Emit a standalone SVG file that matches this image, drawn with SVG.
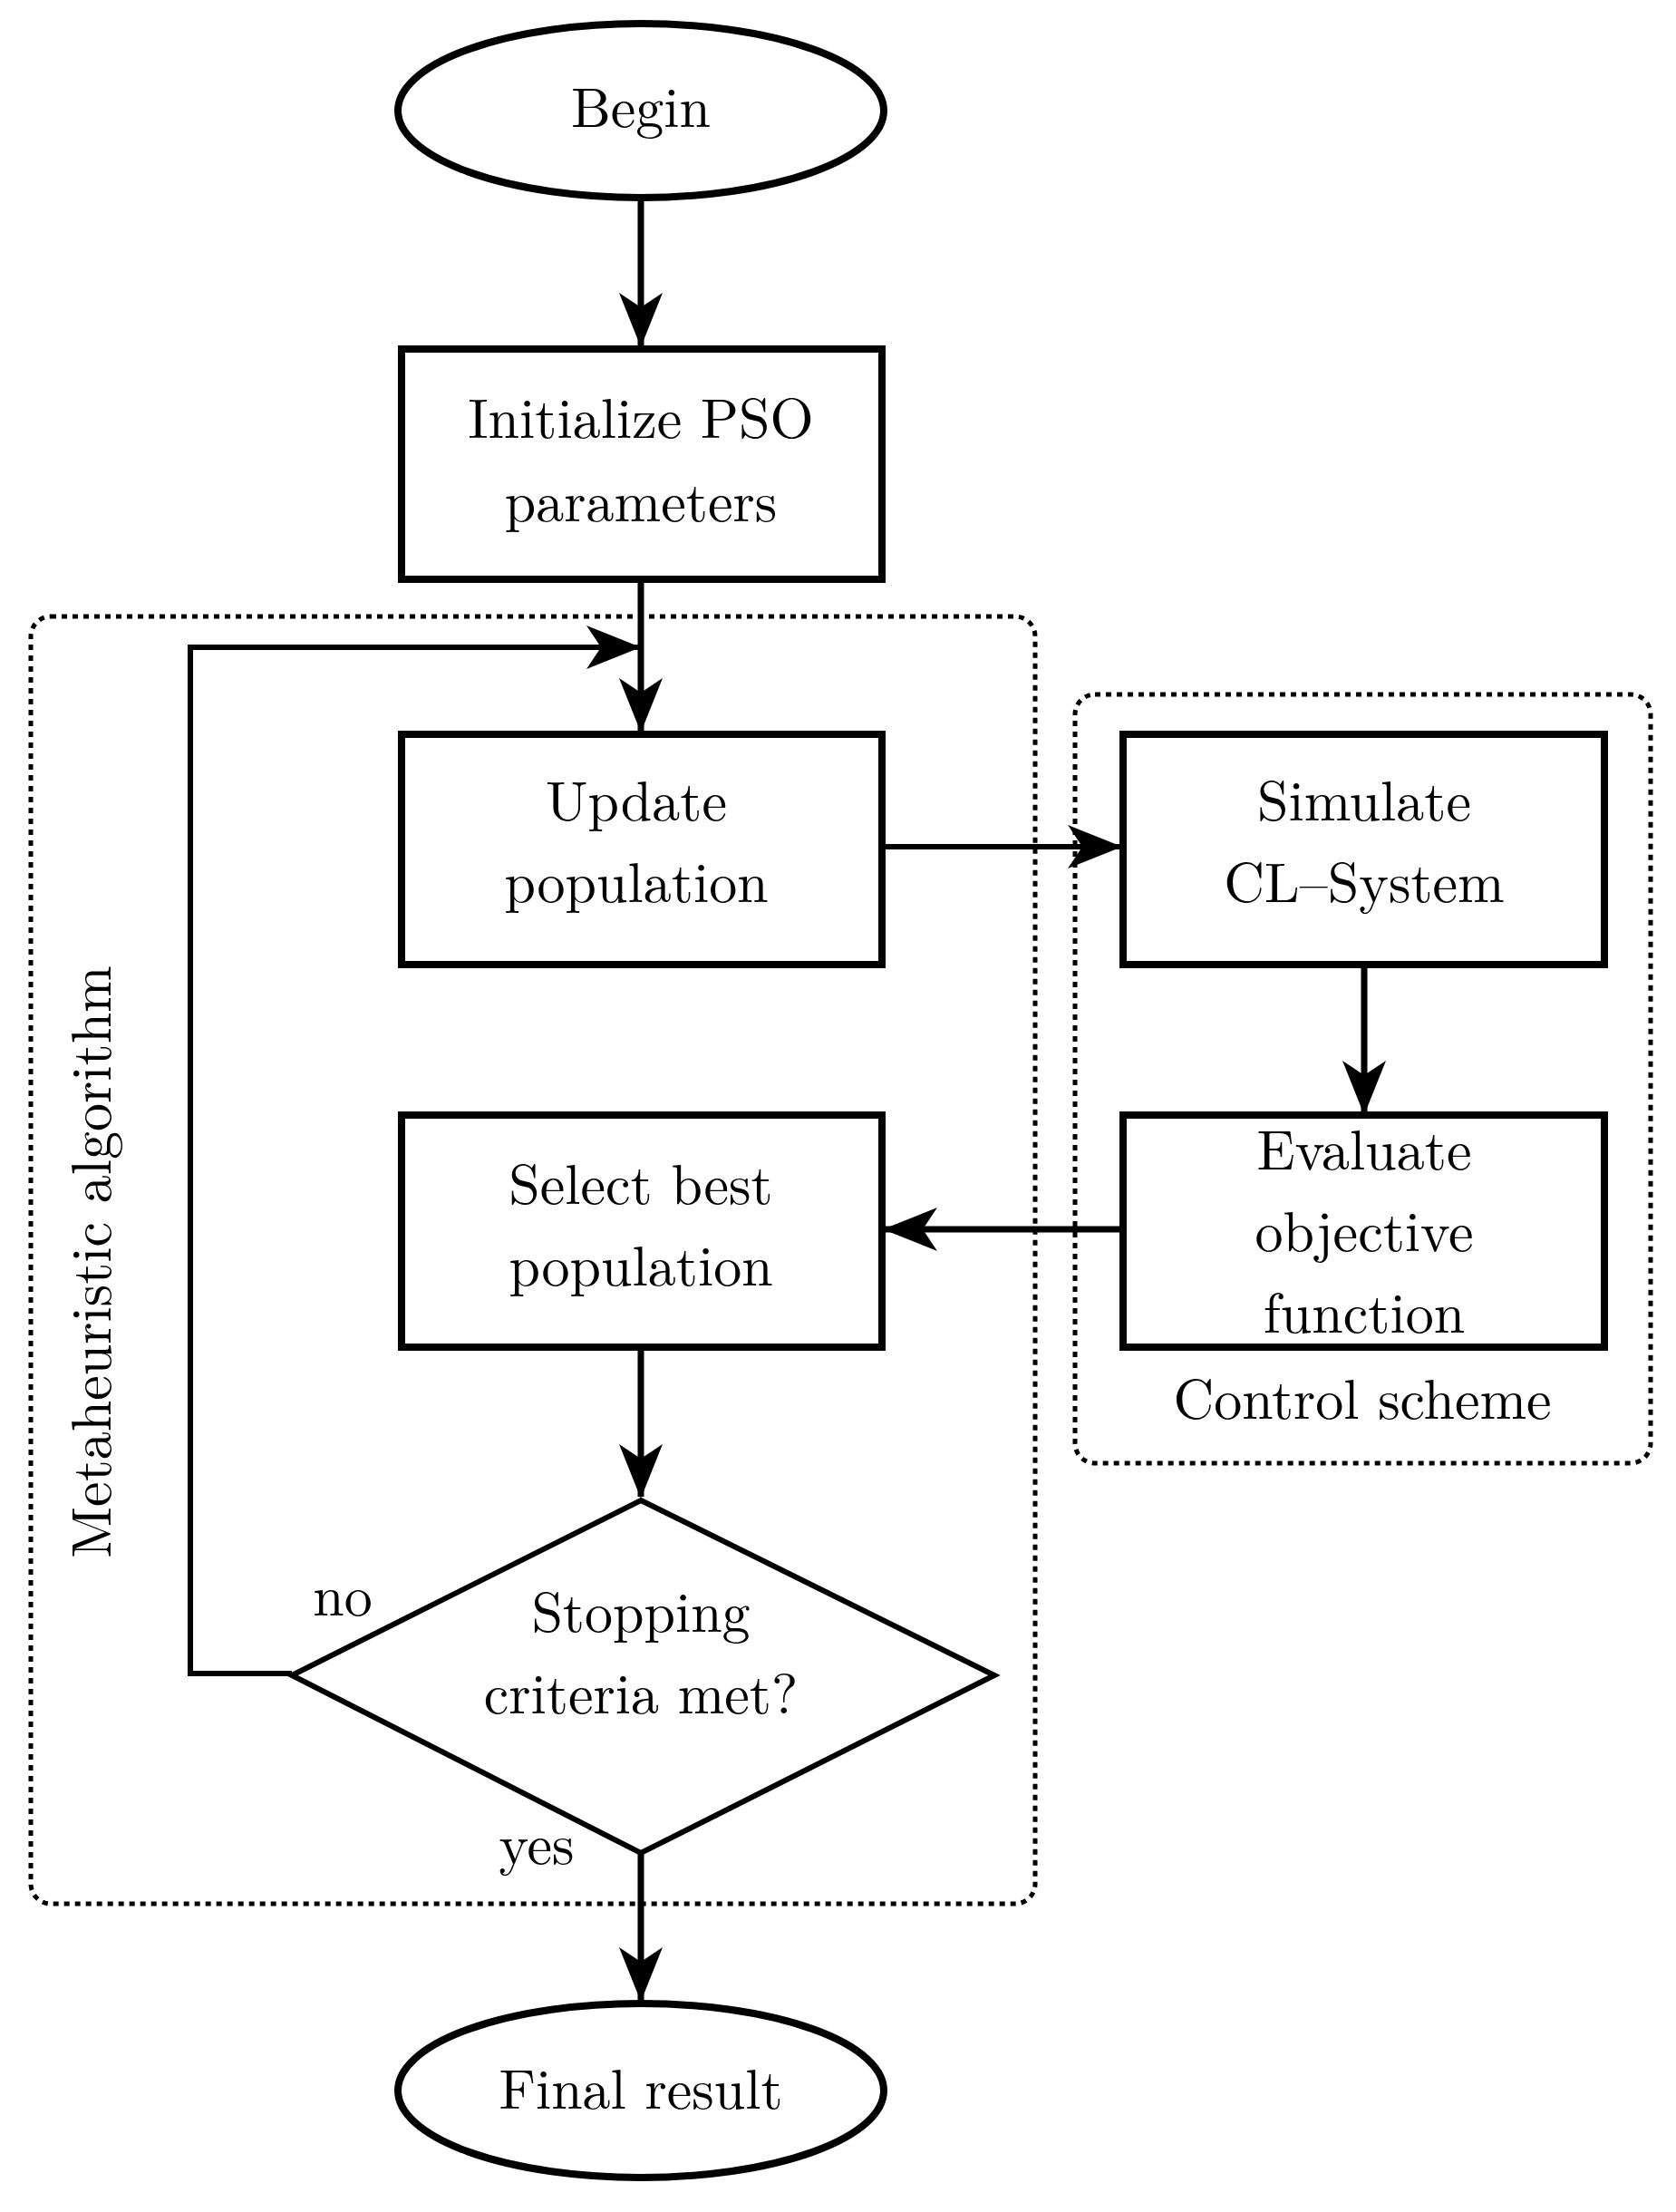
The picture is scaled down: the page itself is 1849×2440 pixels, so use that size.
<svg xmlns="http://www.w3.org/2000/svg" width="1849" height="2440" viewBox="0 0 1849 2440">
<style>
.n{fill:#fff;stroke:#000;stroke-width:8}
.d{fill:none;stroke:#000;stroke-width:6}
.dot{fill:none;stroke:#000;stroke-width:5;stroke-dasharray:6 6}
.c{fill:none;stroke:#000;stroke-width:7}
.t{font-family:"Latin Modern Roman","Liberation Serif",serif;font-size:62px;text-anchor:middle;fill:#000}
</style>
<defs>
<marker id="a" viewBox="0 0 20 16" refX="19" refY="8" markerWidth="10" markerHeight="8" markerUnits="userSpaceOnUse" orient="auto" overflow="visible">
<path d="M0,0 L20,8 L0,16 L6,8 Z" transform="scale(3)" fill="#000"/>
</marker>
<marker id="b" viewBox="0 0 60 48" refX="58" refY="24" markerWidth="60" markerHeight="48" markerUnits="userSpaceOnUse" orient="auto">
<path d="M0,0 L60,24 L0,48 L16,24 Z" fill="#000"/>
</marker>
</defs>
<g id="containers">
<rect class="dot" x="34" y="680" width="1108" height="1420" rx="22"/>
<rect class="dot" x="1186" y="766" width="635" height="848" rx="22"/>
<text class="t" transform="translate(122,1392) rotate(-90)">Metaheuristic algorithm</text>
<text class="t" x="1503" y="1565">Control scheme</text>
</g>
<g id="connectors">
<line class="c" x1="707" y1="218" x2="707" y2="381" marker-end="url(#b)"/>
<line class="c" x1="707" y1="643" x2="707" y2="806" marker-end="url(#b)"/>
<polyline class="d" points="322,1846 210,1846 210,714 705,714" marker-end="url(#b)"/>
<line class="d" x1="973" y1="934" x2="1236" y2="934" marker-end="url(#b)"/>
<line class="c" x1="1505" y1="1066" x2="1505" y2="1228" marker-end="url(#b)"/>
<line class="c" x1="1237" y1="1356" x2="976" y2="1356" marker-end="url(#b)"/>
<line class="c" x1="707" y1="1488" x2="707" y2="1651" marker-end="url(#b)"/>
<line class="c" x1="707" y1="2044" x2="707" y2="2206" marker-end="url(#b)"/>
<text class="t" x="378" y="1782">no</text>
<text class="t" x="592" y="2056">yes</text>
</g>
<g id="begin"><ellipse class="n" cx="707" cy="122" rx="268" ry="96"/><text class="t" x="707" y="140">Begin</text></g>
<g id="init"><rect class="n" x="443" y="385" width="530" height="254"/><text class="t" x="707" y="483">Initialize PSO</text><text class="t" x="707" y="575">parameters</text></g>
<g id="update"><rect class="n" x="443" y="810" width="530" height="254"/><text class="t" x="702" y="905">Update</text><text class="t" x="702" y="995">population</text></g>
<g id="simulate"><rect class="n" x="1239" y="810" width="531" height="254"/><text class="t" x="1505" y="905">Simulate</text><text class="t" x="1505" y="995">CL–System</text></g>
<g id="evaluate"><rect class="n" x="1239" y="1230" width="531" height="256"/><text class="t" x="1505" y="1290">Evaluate</text><text class="t" x="1505" y="1380">objective</text><text class="t" x="1505" y="1470">function</text></g>
<g id="select"><rect class="n" x="443" y="1230" width="530" height="256"/><text class="t" x="707" y="1328">Select best</text><text class="t" x="707" y="1418">population</text></g>
<g id="decision"><polygon class="d" points="707,1655 1097,1848 707,2044 322,1848"/><text class="t" x="707" y="1800">Stopping</text><text class="t" x="707" y="1890">criteria met?</text></g>
<g id="final"><ellipse class="n" cx="707" cy="2306" rx="268" ry="96"/><text class="t" x="707" y="2326">Final result</text></g>
</svg>
